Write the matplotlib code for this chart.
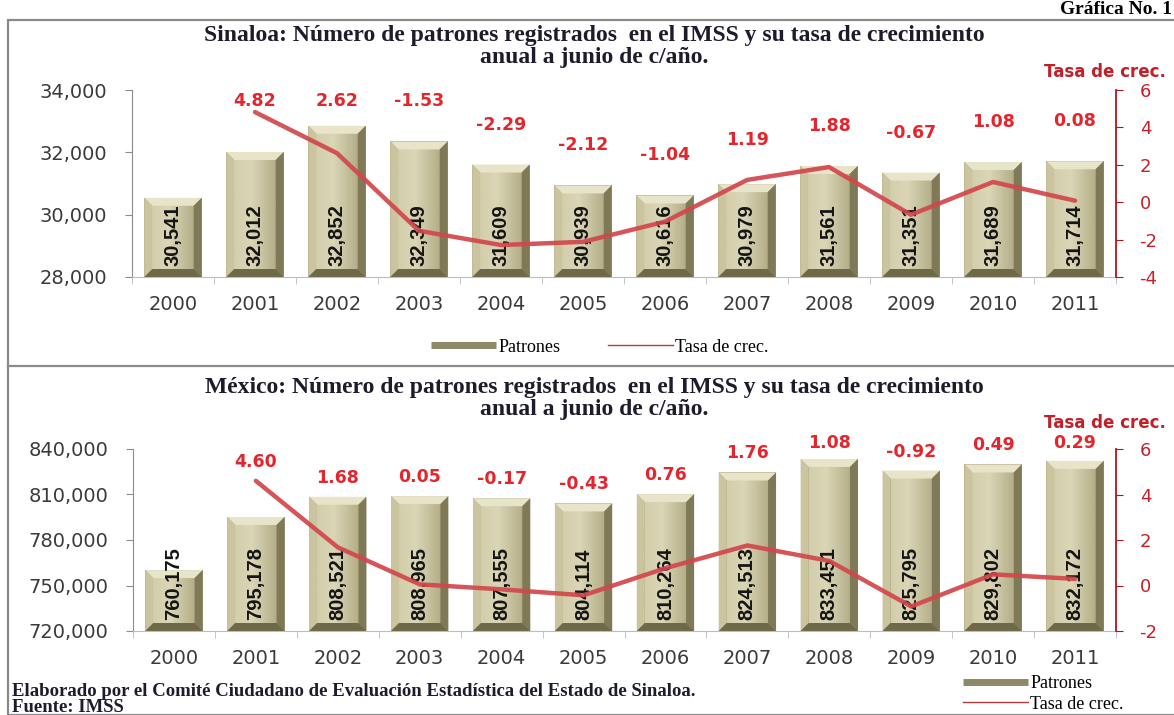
import numpy as np
import matplotlib
matplotlib.use("Agg")
import matplotlib.pyplot as plt
from matplotlib.patches import Polygon, Rectangle
from matplotlib.lines import Line2D
from matplotlib.colors import to_rgb

# ---------------- data ----------------
years = ["2000", "2001", "2002", "2003", "2004", "2005", "2006",
         "2007", "2008", "2009", "2010", "2011"]

sin_patrones = [30541, 32012, 32852, 32349, 31609, 30939, 30616,
                30979, 31561, 31351, 31689, 31714]
sin_tasa = [None, 4.82, 2.62, -1.53, -2.29, -2.12, -1.04,
            1.19, 1.88, -0.67, 1.08, 0.08]

mex_patrones = [760175, 795178, 808521, 808965, 807555, 804114, 810264,
                824513, 833451, 825795, 829802, 832172]
mex_tasa = [None, 4.60, 1.68, 0.05, -0.17, -0.43, 0.76,
            1.76, 1.08, -0.92, 0.49, 0.29]

title_sin = ["Sinaloa: Número de patrones registrados  en el IMSS y su tasa de crecimiento",
             "anual a junio de c/año."]
title_mex = ["México: Número de patrones registrados  en el IMSS y su tasa de crecimiento",
             "anual a junio de c/año."]
right_label = "Tasa de crec."
legend_labels = ["Patrones", "Tasa de crec."]
note1 = "Elaborado por el Comité Ciudadano de Evaluación Estadística del Estado de Sinaloa."
note2 = "Fuente: IMSS"
graf_label = "Gráfica No. 1"

# ---------------- style ----------------
W, H = 1174, 715
fig = plt.figure(figsize=(W / 100, H / 100), dpi=100)
fig.patch.set_facecolor("white")

GRAY = "#8C8C8C"
DARKRED = "#B0141C"
RED_TXT = "#E3262E"
LINE_RED = "#D2464B"
TICK_TXT = "#3A3A3A"
SERIF = ["Liberation Serif", "DejaVu Serif"]
BARFONT = ["Liberation Sans", "DejaVu Sans"]


def px_rect(x0, y0, x1, y1):
    """pixel box (top-left origin) -> figure fraction [l, b, w, h]"""
    return [x0 / W, (H - y1) / H, (x1 - x0) / W, (y1 - y0) / H]


def bevel_bar(ax, xc, w, y0, y1, bx, by):
    x0, x1 = xc - w / 2, xc + w / 2
    ax.add_patch(Rectangle((x0, y0), w, y1 - y0, facecolor="#A9A37E",
                           edgecolor="none", zorder=2))
    c_left = np.array(to_rgb("#D3CEAB"))
    c_mid = np.array(to_rgb("#DAD6B6"))
    c_right = np.array(to_rgb("#B4AE88"))
    t = np.linspace(0, 1, 40)
    cols = np.where(t[:, None] < 0.4,
                    c_left + (c_mid - c_left) * (t[:, None] / 0.4),
                    c_mid + (c_right - c_mid) * ((t[:, None] - 0.4) / 0.6))
    img = np.tile(cols[None, :, :], (2, 1, 1))
    ax.imshow(img, extent=(x0 + bx, x1 - bx, y0 + by, y1 - by),
              aspect="auto", interpolation="bilinear", zorder=2.1)
    polys = [
        ([(x0, y1), (x1, y1), (x1 - bx, y1 - by), (x0 + bx, y1 - by)], "#E8E4CA"),
        ([(x0, y0), (x0, y1), (x0 + bx, y1 - by), (x0 + bx, y0 + by)], "#CAC49F"),
        ([(x1, y0), (x1, y1), (x1 - bx, y1 - by), (x1 - bx, y0 + by)], "#7F7957"),
        ([(x0, y0), (x1, y0), (x1 - bx, y0 + by), (x0 + bx, y0 + by)], "#6E6949"),
    ]
    for pts, c in polys:
        ax.add_patch(Polygon(pts, closed=True, facecolor=c, edgecolor="none",
                             zorder=2.2))


def panel(rect, patrones, tasa, ylim, yticks, y2lim, y2ticks,
          lab_offset_px, lab_cap_px):
    ax = fig.add_axes(px_rect(*rect))
    ax2 = ax.twinx()
    n = len(years)
    x = np.arange(n)
    ax.set_xlim(-0.5, n - 0.5)
    ax.set_ylim(*ylim)
    ax2.set_ylim(*y2lim)

    ax_w_px = rect[2] - rect[0]
    ax_h_px = rect[3] - rect[1]
    bx = 8 / (ax_w_px / n)
    by = 8 * (ylim[1] - ylim[0]) / ax_h_px
    width = 0.70
    for xi, v in zip(x, patrones):
        bevel_bar(ax, xi, width, ylim[0], v, bx, by)
        ax.annotate(f"{v:,}", (xi, ylim[0]), xytext=(0, 8),
                    textcoords="offset points", rotation=90,
                    rotation_mode="anchor", ha="left", va="center",
                    fontsize=14.5, fontweight="bold", family=BARFONT,
                    color="#141414", zorder=3)
    ax.set_xlim(-0.5, n - 0.5)
    ax.set_ylim(*ylim)

    xs = [xi for xi, t in zip(x, tasa) if t is not None]
    ts = [t for t in tasa if t is not None]
    ax2.plot(xs, ts, color=LINE_RED, lw=3.2, alpha=0.92,
             solid_joinstyle="round", solid_capstyle="round", zorder=4)

    ax.set_yticks(yticks)
    ax.set_yticklabels([f"{t:,}" for t in yticks])
    ax.set_xticks(x)
    ax.set_xticklabels(years)
    ax.set_xticks(np.arange(-0.5, n, 1.0), minor=True)
    ax.tick_params(axis="x", which="major", length=0, pad=13,
                   labelsize=14, labelcolor=TICK_TXT)
    ax.tick_params(axis="x", which="minor", length=5, color="#BDBDBD",
                   direction="out")
    ax.tick_params(axis="y", length=5, color=GRAY, direction="out",
                   labelsize=14, labelcolor=TICK_TXT, pad=13)
    for s in ("top", "right"):
        ax.spines[s].set_visible(False)
    ax.spines["left"].set_color(GRAY)
    ax.spines["bottom"].set_color("#BDBDBD")

    ax2.set_yticks(y2ticks)
    ax2.set_yticklabels([str(t) for t in y2ticks])
    ax2.tick_params(axis="y", length=5, color=DARKRED, direction="out",
                    labelsize=13, labelcolor="#C8202A", pad=12)
    for s in ("top", "left", "bottom"):
        ax2.spines[s].set_visible(False)
    ax2.spines["right"].set_color(DARKRED)
    ax2.spines["right"].set_linewidth(1.3)

    inv = fig.transFigure.inverted()
    for xi, v, t in zip(x, patrones, tasa):
        if t is None:
            continue
        yb = ax.transData.transform((xi, v))[1]
        yl = ax2.transData.transform((xi, t))[1]
        yd = min(max(yb, yl) + lab_offset_px, H - lab_cap_px)
        xd = ax.transData.transform((xi, v))[0]
        fx, fy = inv.transform((xd, yd))
        fig.text(fx, fy, f"{t:.2f}", ha="center", va="center",
                 fontsize=12.5, fontweight="bold", color=RED_TXT, zorder=5)
    return ax, ax2


# ---------------- frame ----------------
frame = Rectangle((8 / W, 0), 1.2, (H - 20) / H, transform=fig.transFigure,
                  fill=False, edgecolor="#8A8A8A", lw=1.6, zorder=0)
fig.patches.append(frame)
fig.add_artist(Line2D([8 / W, 1], [(H - 366) / H] * 2,
                      transform=fig.transFigure, color="#8A8A8A", lw=1.6))

fig.text(1172 / W, (H - 9) / H, graf_label, ha="right", va="center",
         family=SERIF, fontweight="bold", fontsize=14, color="black")

# ---------------- panels ----------------
panel((132, 90, 1116, 277), sin_patrones, sin_tasa,
      (28000, 34000), [28000, 30000, 32000, 34000],
      (-4, 6), [-4, -2, 0, 2, 4, 6], 40, 101)
panel((133, 449, 1116, 631), mex_patrones, mex_tasa,
      (720000, 840000), [720000, 750000, 780000, 810000, 840000],
      (-2, 6), [-2, 0, 2, 4, 6], 19, 443)

# titles
for (y1, y2), lines in (((35, 57), title_sin), ((388, 410), title_mex)):
    for ty, txt in ((y1, lines[0]), (y2, lines[1])):
        fig.text(594 / W, (H - ty) / H, txt, ha="center", va="center",
                 family=SERIF, fontweight="bold", fontsize=17,
                 color="#1C1C2C")

# right axis headers
for ty in (72, 423):
    fig.text(1166 / W, (H - ty) / H, right_label, ha="right", va="center",
             fontsize=12, fontweight="bold", color="#C0202A")

# legends
h_bar = Line2D([], [], color="#8F8A65", lw=5, solid_capstyle="butt")
h_line = Line2D([], [], color="#B5383C", lw=1.0)
fig.legend([h_bar, h_line], legend_labels, loc="center",
           bbox_to_anchor=(600 / W, (H - 347) / H), ncol=2, frameon=False,
           prop={"family": SERIF, "size": 13}, handlelength=3.6,
           columnspacing=2.6, handletextpad=0.15)
fig.legend([h_bar, h_line], legend_labels, loc="center left",
           bbox_to_anchor=(950 / W, (H - 694) / H), ncol=1, frameon=False,
           prop={"family": SERIF, "size": 13}, handlelength=3.6,
           handletextpad=0.15, labelspacing=0.2, borderpad=0.2)

# footnotes
fig.text(12 / W, (H - 692) / H, note1, ha="left", va="center",
         family=SERIF, fontweight="bold", fontsize=13.5, color="#1C1C2C")
fig.text(12 / W, (H - 708) / H, note2, ha="left", va="center",
         family=SERIF, fontweight="bold", fontsize=13.5, color="#1C1C2C")

fig.savefig("out.png", dpi=100, facecolor="white")
